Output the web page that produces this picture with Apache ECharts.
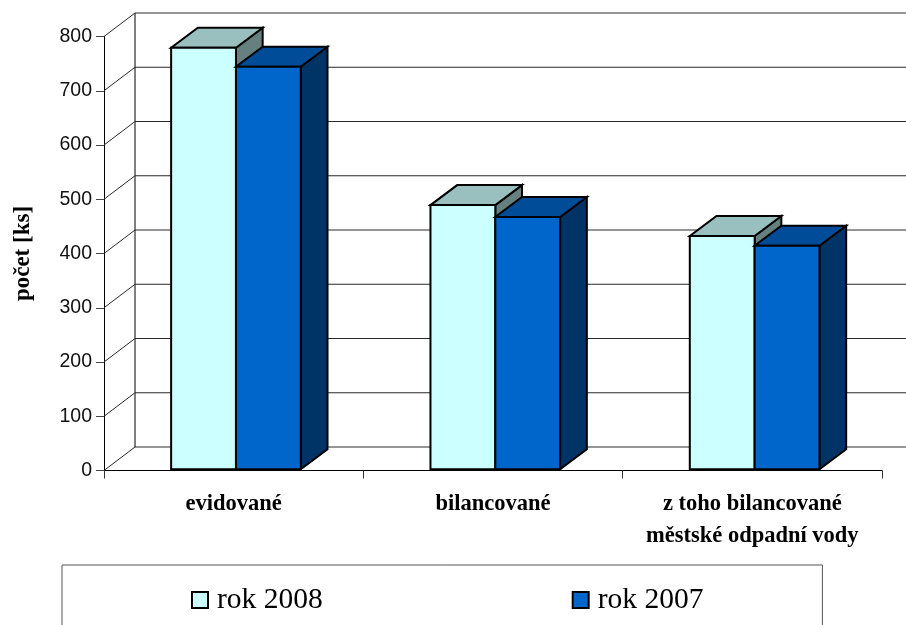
<!DOCTYPE html>
<html>
<head>
<meta charset="utf-8">
<style>html,body{margin:0;padding:0;background:#fff}#chart{width:906px;height:625px}</style>
<script src="https://cdn.jsdelivr.net/npm/echarts@6/dist/echarts.min.js"></script>
</head>
<body>
<div id="chart"></div>
<script>
const categories = ['evidované', 'bilancované', 'z toho bilancované\nměstské odpadní vody'];
const values2008 = [777, 487, 430];
const values2007 = [742, 465, 412];
const tickValues = [0, 100, 200, 300, 400, 500, 600, 700, 800];

// Oblique projection: how far the back wall and each bar's rear sit from their front plane.
const WALL_DX = 31, WALL_DY = -23.5;
const BAR_DX = 26.7, BAR_DY = -20;
const BAR_SHIFT_X = 2.3, BAR_SHIFT_Y = -1.2;
const BAR_SHARE = 0.25;

function poly(points, fill) {
  return {
    type: 'polygon',
    shape: { points },
    style: { fill, stroke: '#000', lineWidth: 2, lineJoin: 'miter' }
  };
}

function barRenderer(slot, front, top, side) {
  return function (params, api) {
    const index = api.value(0);
    const base = api.coord([index, 0]);
    const peak = api.coord([index, api.value(1)]);
    const w = api.size([1, 0])[0] * BAR_SHARE;
    const x0 = base[0] + BAR_SHIFT_X + slot * w;
    const x1 = x0 + w;
    const yb = base[1] + BAR_SHIFT_Y;
    const yt = peak[1] + BAR_SHIFT_Y;
    return {
      type: 'group',
      children: [
        poly([[x1, yb], [x1 + BAR_DX, yb + BAR_DY], [x1 + BAR_DX, yt + BAR_DY], [x1, yt]], side),
        poly([[x0, yt], [x1, yt], [x1 + BAR_DX, yt + BAR_DY], [x0 + BAR_DX, yt + BAR_DY]], top),
        poly([[x0, yb], [x1, yb], [x1, yt], [x0, yt]], front)
      ]
    };
  };
}

// Back wall rules, the diagonals on the side wall, and the rear vertical edge.
function wallRenderer(params, api) {
  const sys = params.coordSys;
  const y = api.coord([0, api.value(0)])[1];
  const xa = sys.x, xb = sys.x + WALL_DX, xc = sys.x + sys.width + WALL_DX;
  const yb = y + WALL_DY;
  const children = [{
    type: 'polyline',
    shape: { points: [[xa, y], [xb, yb], [xc, yb]] },
    style: { fill: null, stroke: '#2a2a2a', lineWidth: 1 }
  }];
  if (api.value(0) === 0) {
    children.push({
      type: 'line',
      shape: { x1: xb, y1: sys.y + WALL_DY, x2: xb, y2: yb },
      style: { stroke: '#000', lineWidth: 1 }
    });
  }
  return { type: 'group', children };
}

const chart = echarts.init(document.getElementById('chart'), null, { renderer: 'canvas' });
chart.setOption({
  animation: false,
  backgroundColor: '#fff',
  grid: { left: 104, top: 36.5, width: 778, height: 434, outerBoundsMode: 'none', containLabel: false },
  xAxis: {
    type: 'category',
    data: categories,
    axisLine: { show: true, lineStyle: { color: '#000', width: 1 } },
    axisTick: { show: true, alignWithLabel: false, length: 8, lineStyle: { color: '#333', width: 1 } },
    axisLabel: {
      interval: 0, margin: 18,
      fontFamily: 'Liberation Serif', fontWeight: 'bold', fontSize: 22.5, color: '#000', lineHeight: 32
    }
  },
  yAxis: {
    type: 'value',
    min: 0, max: 800, interval: 100,
    name: 'počet [ks]',
    nameLocation: 'middle',
    nameGap: 69.5,
    nameRotate: 90,
    nameTextStyle: { fontFamily: 'Liberation Serif', fontWeight: 'bold', fontSize: 23, color: '#000' },
    splitLine: { show: false },
    axisLine: { show: true, lineStyle: { color: '#000', width: 1 } },
    axisTick: { show: true, length: 8, lineStyle: { color: '#444', width: 1 } },
    axisLabel: { margin: 12, fontFamily: 'Liberation Sans', fontSize: 19.5, color: '#111' }
  },
  legend: {
    left: 62, top: 565,
    padding: [20, 119, 30, 129],
    backgroundColor: '#fff',
    borderColor: '#555', borderWidth: 1,
    itemWidth: 16, itemHeight: 16, itemGap: 249,
    icon: 'rect',
    data: ['rok 2008', 'rok 2007'],
    itemStyle: { borderColor: '#000', borderWidth: 2 },
    textStyle: { fontFamily: 'Liberation Serif', fontSize: 29.5, color: '#000', padding: [0, 0, 0, 4] }
  },
  series: [
    {
      type: 'custom', name: 'stěna', silent: true,
      coordinateSystem: 'cartesian2d',
      encode: { y: 0 },
      data: tickValues.map(v => [v]),
      renderItem: wallRenderer
    },
    {
      type: 'custom', name: 'rok 2008',
      coordinateSystem: 'cartesian2d',
      encode: { x: 0, y: 1 },
      itemStyle: { color: '#CCFFFF' },
      data: values2008.map((v, i) => [i, v]),
      renderItem: barRenderer(-1, '#CCFFFF', '#99BFBF', '#668080')
    },
    {
      type: 'custom', name: 'rok 2007',
      coordinateSystem: 'cartesian2d',
      encode: { x: 0, y: 1 },
      itemStyle: { color: '#0066CC' },
      data: values2007.map((v, i) => [i, v]),
      renderItem: barRenderer(0, '#0066CC', '#004C99', '#003366')
    }
  ]
});
</script>
</body>
</html>
